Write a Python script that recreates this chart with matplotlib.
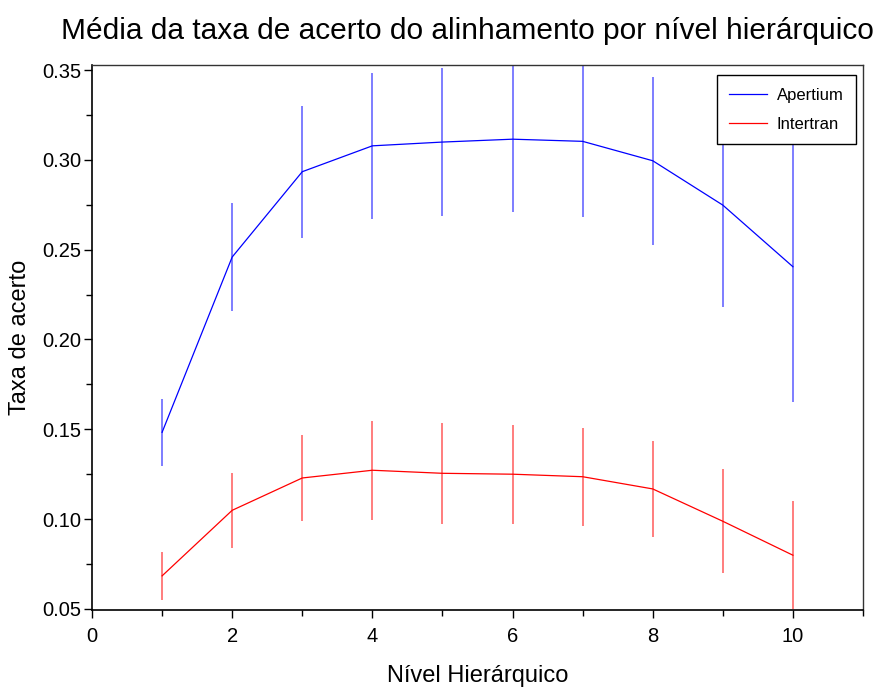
import numpy as np
import matplotlib
matplotlib.use("Agg")
import matplotlib.pyplot as plt
from matplotlib.ticker import MultipleLocator

plt.rcParams['font.family'] = ['Liberation Sans', 'DejaVu Sans']

# hierarchical levels
niveis = [1, 2, 3, 4, 5, 6, 7, 8, 9, 10]

# Apertium: mean and error
apertium_media = [0.1483, 0.2459, 0.2934, 0.3078, 0.3099, 0.3115, 0.3103, 0.2995, 0.2748, 0.2405]
apertium_erro = [0.0185, 0.0298, 0.0368, 0.0408, 0.0410, 0.0406, 0.0420, 0.0468, 0.0569, 0.0755]

# Intertran: mean and error
intertran_media = [0.0684, 0.1049, 0.1229, 0.1272, 0.1255, 0.1250, 0.1236, 0.1168, 0.0988, 0.0799]
intertran_erro = [0.0135, 0.0209, 0.0238, 0.0276, 0.0280, 0.0276, 0.0273, 0.0267, 0.0289, 0.0300]

fig = plt.figure(figsize=(8.96, 6.9), dpi=100)
ax = fig.add_axes([92/896, 1 - 610/690, (863-92)/896, (610-65)/690])

#error bars, lighter, no caps
ax.errorbar(niveis, apertium_media, yerr=apertium_erro, fmt='none', ecolor='blue', alpha=0.55, elinewidth=1.3, capsize=0)
ax.errorbar(niveis, intertran_media, yerr=intertran_erro, fmt='none', ecolor='red', alpha=0.55, elinewidth=1.3, capsize=0)
ax.plot(niveis, apertium_media, color='blue', lw=0.9, label='Apertium')
ax.plot(niveis, intertran_media, color='red', lw=0.9, label='Intertran')

ax.set_xlim(0, 11)
ax.set_ylim(0.0494, 0.3528)
ax.xaxis.set_major_locator(MultipleLocator(2))
ax.xaxis.set_minor_locator(MultipleLocator(1))
ax.yaxis.set_major_locator(MultipleLocator(0.05))
ax.yaxis.set_minor_locator(MultipleLocator(0.025))
ax.yaxis.set_major_formatter(plt.FormatStrFormatter('%.2f'))
ax.tick_params(which='major', direction='out', length=6, width=1, labelsize=14.5)
ax.tick_params(axis='y', which='major', pad=2)
ax.tick_params(axis='x', which='major', pad=6)
ax.tick_params(which='minor', direction='out', length=4, width=1)

for s in ['left', 'bottom']:
    ax.spines[s].set_linewidth(1.2)
for s in ['top', 'right']:
    ax.spines[s].set_linewidth(1.0)
    ax.spines[s].set_color('#333333')

ax.set_xlabel('Nível Hierárquico', fontsize=17, labelpad=14)
ax.set_ylabel('Taxa de acerto', fontsize=17, labelpad=8)
fig.text(0.5 + 19/896, 1 - 31/690, 'Média da taxa de acerto do alinhamento por nível hierárquico',
         fontsize=21.5, ha='center', va='center')

leg = ax.legend(loc='upper right', bbox_to_anchor=(1 - 7/771, 1 - 10/545), fontsize=12,
                fancybox=False, framealpha=1, edgecolor='black', borderaxespad=0,
                handlelength=2.3, handletextpad=0.55, borderpad=0.75, labelspacing=0.85)
leg.get_frame().set_linewidth(1.0)

plt.savefig('out.png', dpi=100)
